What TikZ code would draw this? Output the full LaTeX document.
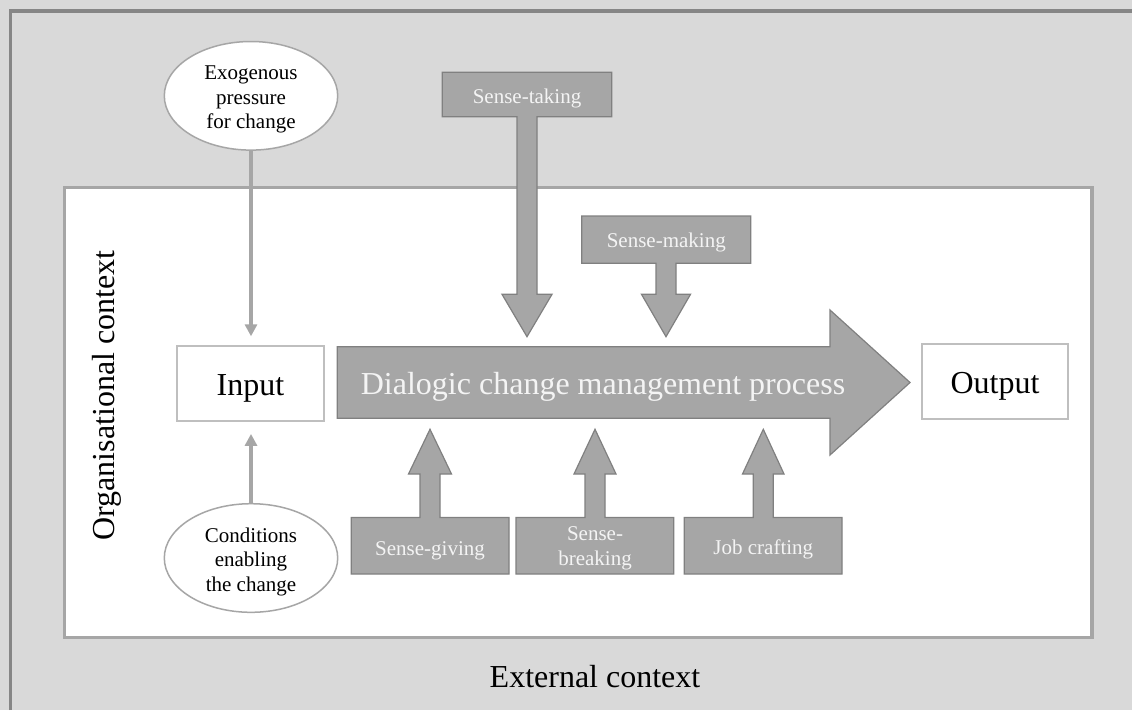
\documentclass[tikz,border=0pt]{standalone}
\usepackage{fontspec}
\setmainfont{Liberation Serif}
\usetikzlibrary{arrows.meta,shapes.geometric}
\definecolor{bgc}{HTML}{D9D9D9}
\definecolor{outerc}{HTML}{868686}
\definecolor{innerc}{HTML}{A6A6A6}
\definecolor{shapec}{HTML}{A6A6A6}
\definecolor{strokec}{HTML}{808080}
\definecolor{connc}{HTML}{A6A6A6}
\definecolor{ioc}{HTML}{BFBFBF}
\definecolor{ellc}{HTML}{A6A6A6}
\definecolor{txtc}{HTML}{F4F4F4}
\newcommand\fbig{\fontsize{32}{38}\selectfont}
\newcommand\fsmall{\fontsize{21}{24.5}\selectfont}
\tikzset{
  callout/.style={fill=shapec, draw=strokec, line width=1.2pt, line join=miter},
  calltext/.style={font=\fsmall, text=txtc, anchor=base, inner sep=0pt},
  bigtext/.style={font=\fbig, text=black, anchor=base, inner sep=0pt},
  iobox/.style={rectangle, draw=ioc, line width=1.6pt, fill=white, inner sep=0pt,
    minimum height=75pt, font=\fbig, text height=27pt, text depth=2.4pt},
  ellip/.style={ellipse, draw=ellc, line width=1.5pt, fill=white, inner sep=0pt,
    minimum width=173.4pt, minimum height=108.6pt},
  elltext/.style={font=\fsmall, align=center, text=black, inner sep=0pt, yshift=-3.6pt},
  conn/.style={draw=connc, line width=4pt, -{Triangle[width=12pt,length=12pt]}}
}
\begin{document}
\begin{tikzpicture}[x=1pt,y=-1pt]
% background and frames
\path[use as bounding box, fill=bgc] (0,0) rectangle (1132,710);
\draw[outerc, line width=3.2pt] (10.7,710) -- (10.7,11) -- (1132,11);
\draw[innerc, line width=3.3pt, fill=white] (64.3,187.5) rectangle (1092,637.7);

% context labels
\node[bigtext, rotate=90] (org) at (114.5,395.4) {Organisational context};
\node[bigtext] (ext) at (595,687.7) {External context};

% input / output
\node[iobox, minimum width=147.3pt] (input) at (250.4,383.6) {Input};
\node[iobox, minimum width=146pt] (output) at (995,381.6) {Output};

% ellipses
\node[ellip, label={[elltext]center:{Exogenous\\pressure\\for change}}] (exo) at (251,95.8) {};
\node[ellip, label={[elltext]center:{Conditions\\enabling\\the change}}] (cond) at (251,558) {};

% connectors
\draw[conn, shorten >=9pt] (exo.south) -- (exo.south |- input.north);
\draw[conn, shorten >=12pt] (cond.north) -- (cond.north |- input.south);

% main process arrow
\draw[callout] (337.3,346.7) -- (830,346.7) -- (830,310) -- (910,382.5)
  -- (830,455) -- (830,418.3) -- (337.3,418.3) -- cycle;
\node[calltext, font=\fbig] (process) at (603,394) {Dialogic change management process};

% down callouts
\draw[callout] (442.3,72.3) -- (611.7,72.3) -- (611.7,116.7) -- (537,116.7)
  -- (537,294.3) -- (552,294.3) -- (527,336.7) -- (502,294.3) -- (517,294.3)
  -- (517,116.7) -- (442.3,116.7) -- cycle;
\node[calltext] (taking) at (527,103.3) {Sense-taking};

\draw[callout] (581.7,216) -- (750.7,216) -- (750.7,263.3) -- (676,263.3)
  -- (676,294.3) -- (690.5,294.3) -- (666,336.7) -- (641.5,294.3) -- (656,294.3)
  -- (656,263.3) -- (581.7,263.3) -- cycle;
\node[calltext] (making) at (666.3,247.7) {Sense-making};

% up callouts
\draw[callout] (351.3,574) -- (509,574) -- (509,517.5) -- (440,517.5)
  -- (440,474) -- (451.5,474) -- (430,429.3) -- (408.5,474) -- (420,474)
  -- (420,517.5) -- (351.3,517.5) -- cycle;
\node[calltext] (giving) at (430,555) {Sense-giving};

\draw[callout] (516,574) -- (673.7,574) -- (673.7,517.5) -- (605,517.5)
  -- (605,474) -- (616,474) -- (595,429.3) -- (574,474) -- (585,474)
  -- (585,517.5) -- (516,517.5) -- cycle;
\node[calltext, align=center, anchor=center] (breaking) at (595,548.3) {Sense-\\breaking};

\draw[callout] (684.3,574) -- (842,574) -- (842,517.5) -- (773.3,517.5)
  -- (773.3,474) -- (784,474) -- (763.3,429.3) -- (742.5,474) -- (753.3,474)
  -- (753.3,517.5) -- (684.3,517.5) -- cycle;
\node[calltext] (crafting) at (763.3,554.5) {Job crafting};
\end{tikzpicture}
\end{document}
